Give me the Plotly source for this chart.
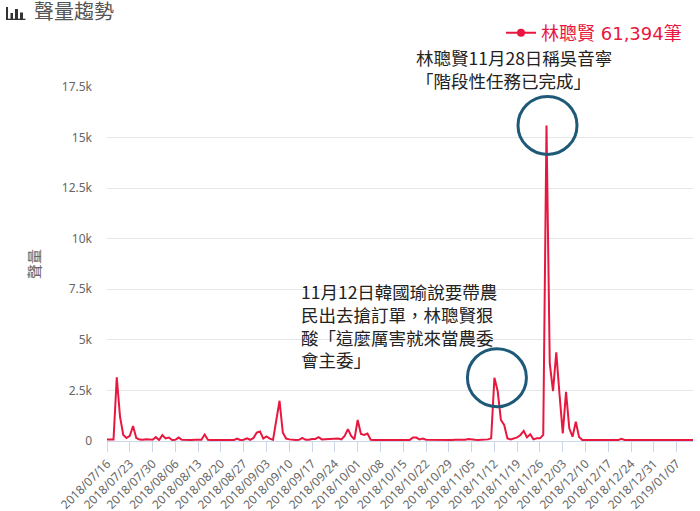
import pandas as pd
import plotly.graph_objects as go

# daily volume for 林聰賢, 2018/07/16 -> 2019/01/12
start_date = "2018-07-16"
volume = [
    80, 60, 70, 3150, 1200, 300, 150, 260, 740, 150,        # 07/16 - 07/25
    70, 60, 90, 80, 60, 190, 50, 290, 130, 170,             # 07/26 - 08/04
    50, 60, 170, 60, 50, 40, 50, 60, 50, 60,                # 08/05 - 08/14
    320, 60, 45, 40, 50, 45, 40, 50, 45, 50,                # 08/15 - 08/24
    120, 40, 60, 130, 60, 150, 420, 470, 120, 230,          # 08/25 - 09/03
    120, 60, 950, 1990, 420, 120, 80, 60, 50, 60,           # 09/04 - 09/13
    150, 60, 60, 100, 100, 190, 80, 90, 100, 110,           # 09/14 - 09/23
    130, 120, 80, 250, 590, 250, 80, 1040, 350, 300,        # 09/24 - 10/03
    370, 60, 50, 55, 50, 60, 50, 55, 50, 60,                # 10/04 - 10/13
    55, 50, 60, 55, 170, 170, 80, 120, 60, 55,              # 10/14 - 10/23
    50, 60, 55, 50, 60, 55, 50, 60, 55, 50,                 # 10/24 - 11/02
    60, 100, 70, 60, 55, 60, 70, 80, 130, 3130,             # 11/03 - 11/12
    2470, 1040, 790, 130, 80, 120, 180, 300, 500, 180,      # 11/13 - 11/22
    330, 80, 130, 130, 300, 15600, 3840, 2470, 4380, 2300,  # 11/23 - 12/02
    380, 2430, 630, 210, 950, 200, 50, 45, 50, 45,          # 12/03 - 12/12
    50, 45, 50, 45, 50, 45, 50, 45, 110, 50,                # 12/13 - 12/22
    45, 50, 45, 50, 45, 50, 45, 50, 45, 50,                 # 12/23 - 01/01
    45, 50, 45, 50, 45, 50, 45, 50, 45, 50,                 # 01/02 - 01/11
    45,                                                     # 01/12
]
series_name = "林聰賢 61,394筆"
tick_start = "2018-07-16"
tick_end = "2019-01-07"

note_peak = "林聰賢11月28日稱吳音寧<br>「階段性任務已完成」"
note_nov12 = "11月12日韓國瑜說要帶農<br>民出去搶訂單，林聰賢狠<br>酸「這麼厲害就來當農委<br>會主委」"

RED = "#e8173f"
TEAL = "#1e5a78"
FONT = "Noto Sans, Noto Sans CJK TC, sans-serif"
CJK = "Noto Sans CJK TC, sans-serif"

dates = pd.date_range(start_date, periods=len(volume), freq="D")
s = pd.Series(volume, index=dates)
ticks = pd.date_range(tick_start, tick_end, freq="7D")

# plot area in pixels: left 107, right 693, top 87, bottom 441
def px(x):
    return (x - 107) / 586

def py(y):
    return (441 - y) / 354

fig = go.Figure()
fig.add_trace(go.Scatter(
    x=s.index, y=s.values, mode="lines",
    line=dict(color=RED, width=2), showlegend=False,
    hoverinfo="x+y",
))
# legend entry only
fig.add_trace(go.Scatter(
    x=[None], y=[None], mode="lines+markers", name=series_name,
    line=dict(color=RED, width=2), marker=dict(color=RED, size=8),
))

shapes = []
# small bar-chart icon next to the title
for x0, x1, y0, y1 in [(6, 8, 7, 20), (10.5, 13, 13, 20), (15, 18, 9, 20),
                       (20, 23, 12.5, 20), (6, 25.5, 18.7, 20)]:
    shapes.append(dict(type="rect", xref="paper", yref="paper",
                       x0=px(x0), x1=px(x1), y0=py(y1), y1=py(y0),
                       fillcolor="#333333", line=dict(width=0)))

# circles around the two peaks
peak_big = s.idxmax()
peak_nov = s["2018-11-01":"2018-11-20"].idxmax()
for when, dx in [(peak_big, 1), (peak_nov, 2.5)]:
    shapes.append(dict(type="circle", xref="x", yref="y",
                       xsizemode="pixel", ysizemode="pixel",
                       xanchor=when, yanchor=s[when],
                       x0=dx - 29.5, x1=dx + 29.5, y0=-29, y1=29,
                       line=dict(color=TEAL, width=3)))

fig.update_layout(
    width=700, height=511,
    margin=dict(l=107, r=7, t=87, b=70),
    paper_bgcolor="white", plot_bgcolor="white",
    font=dict(family=FONT, color="#666666"),
    title=dict(text="聲量趨勢", x=34 / 700, xanchor="left", xref="container",
               y=1 - 12 / 511, yanchor="middle", yref="container",
               pad=dict(l=0, r=0, t=0, b=0),
               font=dict(family=CJK, size=20, color="#555555")),
    legend=dict(x=px(501), xanchor="left", y=py(33), yanchor="middle",
                font=dict(family="DejaVu Sans, Noto Sans CJK TC", size=18, color=RED),
                bgcolor="rgba(0,0,0,0)", itemwidth=30),
    shapes=shapes,
    annotations=[
        dict(text=note_peak, xref="paper", yref="paper", x=px(414), y=py(69),
             xanchor="left", yanchor="middle", align="left", showarrow=False,
             font=dict(family=CJK, size=17.5, color="#222222")),
        dict(text=note_nov12, xref="paper", yref="paper", x=px(299), y=py(325),
             xanchor="left", yanchor="middle", align="left", showarrow=False,
             font=dict(family=CJK, size=17.5, color="#222222")),
        dict(text="聲量", xref="paper", yref="paper", x=px(33), y=0.5,
             xanchor="center", yanchor="middle", textangle=-90, showarrow=False,
             font=dict(family=CJK, size=15, color="#666666")),
    ],
    hovermode="x",
)

fig.update_xaxes(
    type="date", range=[dates[0], dates[-1]],
    tickvals=ticks, ticktext=[d.strftime("%Y/%m/%d") for d in ticks],
    tickangle=-45, tickfont=dict(size=12, color="#666666"),
    ticks="outside", ticklen=10, tickcolor="#ccd6eb",
    showline=True, linecolor="#ccd6eb", linewidth=1,
    showgrid=False, zeroline=False, automargin=False,
)
fig.update_yaxes(
    range=[0, 17500], dtick=2500, tickformat="~s",
    tickfont=dict(size=12, color="#666666"),
    gridcolor="#e6e6e6", zeroline=False, showline=False,
    ticklabelstandoff=14, automargin=False,
)

# page body has a default 8px margin; drop it so the figure sits at 0,0
fig.write_html("out.html", config={"displayModeBar": False},
               post_script="document.body.style.margin='0px';")
